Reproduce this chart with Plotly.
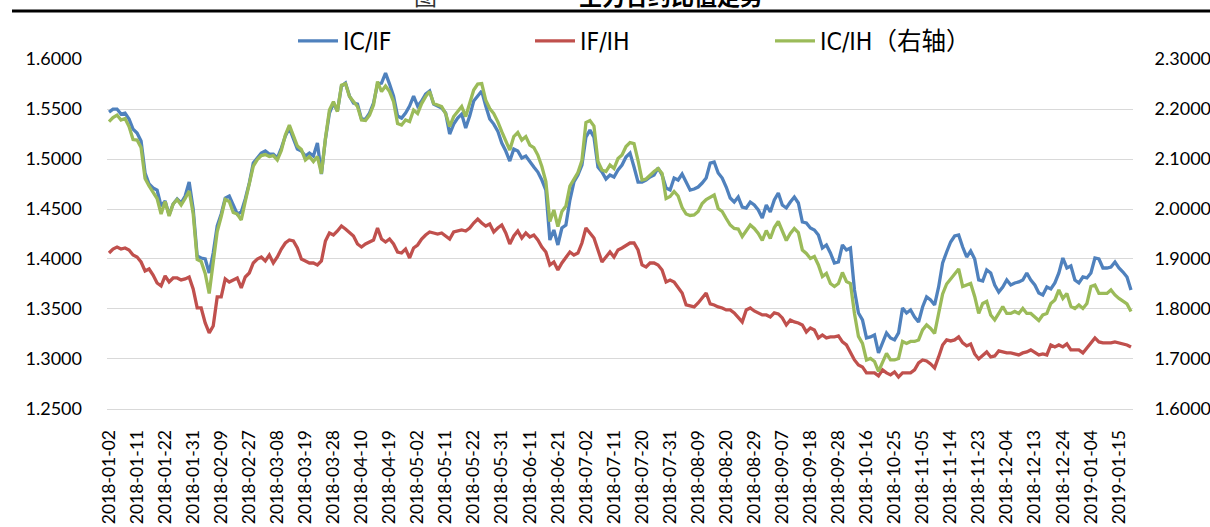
import plotly.graph_objects as go
import pandas as pd

# ---- trading calendar (SSE/CFFEX, 2018-01-02 .. 2019-01-18) ----
holidays = ['2018-01-01', '2018-02-15', '2018-02-16', '2018-02-19', '2018-02-20', '2018-02-21',
            '2018-04-05', '2018-04-06', '2018-04-30', '2018-05-01', '2018-06-18', '2018-09-24',
            '2018-10-01', '2018-10-02', '2018-10-03', '2018-10-04', '2018-10-05',
            '2018-12-31', '2019-01-01']
dates = [d.strftime('%Y-%m-%d') for d in pd.bdate_range('2018-01-02', '2019-01-18')
         if d.strftime('%Y-%m-%d') not in holidays]

# ---- series ----
ic_if = [
    1.547, 1.550, 1.550, 1.545, 1.546, 1.540, 1.530, 1.526, 1.518, 1.486,
    1.475, 1.471, 1.469, 1.453, 1.458, 1.444, 1.455, 1.460, 1.456, 1.463,
    1.477, 1.450, 1.403, 1.401, 1.400, 1.386, 1.406, 1.433, 1.445, 1.461,
    1.463, 1.453, 1.445, 1.447, 1.460, 1.476, 1.496, 1.501, 1.506, 1.508,
    1.505, 1.505, 1.501, 1.511, 1.523, 1.531, 1.521, 1.510, 1.508, 1.503,
    1.506, 1.503, 1.516,
    1.485, 1.520, 1.546, 1.556, 1.548, 1.573, 1.576, 1.563, 1.556, 1.555,
    1.540, 1.540, 1.546, 1.556, 1.575, 1.576, 1.586, 1.575, 1.563, 1.543,
    1.541, 1.546, 1.553, 1.563, 1.553, 1.558, 1.565, 1.568, 1.555, 1.553,
    1.551, 1.546, 1.525, 1.535, 1.541, 1.545, 1.531, 1.543, 1.558, 1.563,
    1.568, 1.553, 1.540, 1.535, 1.528, 1.516, 1.508, 1.498, 1.510, 1.508,
    1.501, 1.503,
    1.497, 1.492, 1.487, 1.479, 1.469, 1.419, 1.429, 1.414, 1.431, 1.434,
    1.459, 1.477, 1.484, 1.494, 1.522, 1.529, 1.522, 1.492, 1.487, 1.480,
    1.484, 1.482, 1.489, 1.494, 1.502, 1.506, 1.492, 1.477, 1.477, 1.479,
    1.482, 1.484, 1.491, 1.484, 1.471, 1.469, 1.481, 1.479, 1.485, 1.476,
    1.469, 1.470, 1.472, 1.476, 1.481, 1.496, 1.497, 1.486, 1.481, 1.472,
    1.461, 1.457, 1.462,
    1.452, 1.451, 1.457, 1.454, 1.449, 1.441, 1.454, 1.447, 1.459, 1.466,
    1.454, 1.451, 1.457, 1.462, 1.456, 1.437, 1.436, 1.431, 1.429, 1.424,
    1.411, 1.414, 1.406, 1.396, 1.397, 1.414, 1.409, 1.411, 1.369, 1.346,
    1.339, 1.321, 1.322, 1.324, 1.306, 1.316, 1.326, 1.321, 1.319, 1.326,
    1.351, 1.346, 1.349, 1.342, 1.337, 1.352, 1.362, 1.359, 1.354, 1.372,
    1.396, 1.407,
    1.417, 1.423, 1.424, 1.412, 1.402, 1.408, 1.400, 1.379, 1.378, 1.389,
    1.386, 1.374, 1.367, 1.372, 1.379, 1.374, 1.376, 1.377, 1.379, 1.386,
    1.379, 1.374, 1.366, 1.364, 1.372, 1.370, 1.376, 1.386, 1.401, 1.391,
    1.393, 1.379, 1.376, 1.382, 1.381, 1.386, 1.401, 1.400, 1.391, 1.391,
    1.392, 1.397, 1.391, 1.387, 1.382, 1.369,
]

if_ih = [
    1.406, 1.410, 1.412, 1.410, 1.411, 1.409, 1.404, 1.402, 1.397, 1.388,
    1.390, 1.384, 1.376, 1.373, 1.383, 1.377, 1.381, 1.381, 1.379, 1.380,
    1.382, 1.370, 1.351, 1.351, 1.336, 1.326, 1.333, 1.362, 1.362, 1.380,
    1.377, 1.379, 1.381, 1.371, 1.382, 1.386, 1.396, 1.400, 1.402, 1.398,
    1.404, 1.396, 1.402, 1.410, 1.416, 1.419, 1.418, 1.411, 1.400, 1.398,
    1.396, 1.396, 1.394,
    1.398, 1.418, 1.426, 1.424, 1.428, 1.433, 1.430, 1.427, 1.423, 1.415,
    1.412, 1.415, 1.417, 1.419, 1.431, 1.420, 1.417, 1.420, 1.415, 1.407,
    1.406, 1.410, 1.401, 1.411, 1.414, 1.420, 1.424, 1.427, 1.426, 1.425,
    1.426, 1.423, 1.420, 1.427, 1.428, 1.429, 1.428, 1.431, 1.436, 1.440,
    1.436, 1.433, 1.435, 1.427, 1.431, 1.434, 1.426, 1.415, 1.423, 1.428,
    1.421, 1.426,
    1.422, 1.424, 1.419, 1.412, 1.407, 1.394, 1.397, 1.389, 1.396, 1.402,
    1.407, 1.404, 1.406, 1.416, 1.431, 1.426, 1.421, 1.409, 1.397, 1.402,
    1.407, 1.402, 1.409, 1.411, 1.414, 1.416, 1.416, 1.409, 1.394, 1.392,
    1.396, 1.396, 1.394, 1.389, 1.377, 1.379, 1.377, 1.372, 1.366, 1.354,
    1.353, 1.352, 1.356, 1.361, 1.366, 1.355, 1.354, 1.352, 1.351, 1.349,
    1.349, 1.346, 1.342,
    1.337, 1.349, 1.351, 1.348, 1.346, 1.344, 1.344, 1.342, 1.346, 1.345,
    1.341, 1.334, 1.339, 1.337, 1.336, 1.334, 1.327, 1.331, 1.329, 1.321,
    1.324, 1.321, 1.322, 1.322, 1.323, 1.317, 1.314, 1.306, 1.299, 1.294,
    1.292, 1.286, 1.286, 1.286, 1.283, 1.289, 1.286, 1.284, 1.287, 1.282,
    1.286, 1.286, 1.286, 1.289, 1.296, 1.299, 1.298, 1.295, 1.291, 1.302,
    1.314, 1.319,
    1.318, 1.319, 1.322, 1.316, 1.313, 1.315, 1.305, 1.300, 1.304, 1.307,
    1.302, 1.303, 1.308, 1.307, 1.306, 1.306, 1.305, 1.304, 1.306, 1.307,
    1.309, 1.306, 1.304, 1.305, 1.304, 1.314, 1.312, 1.314, 1.312, 1.315,
    1.309, 1.309, 1.309, 1.306, 1.311, 1.317, 1.321, 1.317, 1.316, 1.316,
    1.316, 1.317, 1.316, 1.315, 1.314, 1.312,
]

ic_ih = [
    2.175, 2.183, 2.188, 2.178, 2.181, 2.165, 2.139, 2.138, 2.123, 2.061,
    2.046, 2.033, 2.021, 1.990, 2.015, 1.986, 2.010, 2.019, 2.008, 2.021,
    2.036, 1.991, 1.899, 1.895, 1.871, 1.831, 1.891, 1.955, 1.985, 2.019,
    2.015, 1.993, 1.990, 1.978, 2.015, 2.050, 2.086, 2.099, 2.107, 2.109,
    2.105, 2.107, 2.098, 2.117, 2.148, 2.168, 2.148, 2.126, 2.119, 2.098,
    2.105, 2.095, 2.105,
    2.071, 2.141, 2.198, 2.215, 2.195, 2.248, 2.251, 2.225, 2.215, 2.205,
    2.178, 2.177, 2.188, 2.208, 2.255, 2.235, 2.246, 2.235, 2.215, 2.171,
    2.168, 2.178, 2.175, 2.198, 2.191, 2.211, 2.225, 2.235, 2.211, 2.208,
    2.205, 2.191, 2.165, 2.185, 2.195, 2.205, 2.185, 2.211, 2.238, 2.250,
    2.251, 2.218, 2.201, 2.191, 2.175, 2.155, 2.138, 2.118, 2.145, 2.153,
    2.138, 2.145,
    2.128, 2.123, 2.108, 2.085, 2.055, 1.975, 1.998, 1.965, 1.995, 2.006,
    2.046, 2.059, 2.073, 2.097, 2.173, 2.177, 2.166, 2.095, 2.078, 2.075,
    2.088, 2.081, 2.101, 2.108, 2.125, 2.133, 2.131, 2.097, 2.058, 2.060,
    2.068, 2.075, 2.081, 2.071, 2.021, 2.025, 2.035, 2.026, 2.003, 1.990,
    1.987, 1.988, 1.995, 2.011, 2.019, 2.023, 2.028, 2.001, 1.995, 1.981,
    1.968, 1.961, 1.960,
    1.945, 1.958, 1.968, 1.961, 1.951, 1.937, 1.957, 1.941, 1.963, 1.975,
    1.955, 1.937, 1.951, 1.961, 1.953, 1.918, 1.911, 1.901, 1.905, 1.888,
    1.865, 1.871, 1.851, 1.845, 1.851, 1.873, 1.855, 1.851, 1.791, 1.745,
    1.731, 1.698, 1.701, 1.695, 1.675, 1.695, 1.711, 1.698, 1.698, 1.701,
    1.735, 1.731, 1.735, 1.735, 1.738, 1.758, 1.768, 1.761, 1.751, 1.791,
    1.830, 1.850,
    1.860, 1.872, 1.880, 1.845, 1.848, 1.851, 1.825, 1.791, 1.811, 1.815,
    1.788, 1.778, 1.791, 1.805, 1.791, 1.791, 1.795, 1.791, 1.801, 1.791,
    1.791, 1.785, 1.777, 1.788, 1.791, 1.811, 1.818, 1.838, 1.821, 1.831,
    1.805, 1.801, 1.808, 1.801, 1.811, 1.845, 1.848, 1.831, 1.831, 1.831,
    1.838, 1.828, 1.821, 1.815, 1.810, 1.795,
]

x_tick_labels = dates[::7]
left_ticks = [1.25, 1.30, 1.35, 1.40, 1.45, 1.50, 1.55, 1.60]
right_ticks = [1.6, 1.7, 1.8, 1.9, 2.0, 2.1, 2.2, 2.3]

BLUE, RED, GREEN = '#4F81BD', '#C0504D', '#9BBB59'
GRID = '#D9D9D9'
TICK_FONT = dict(family='Lato, Carlito, Liberation Sans, sans-serif', size=18, color='#000000')
XTICK_FONT = dict(family='Lato, Carlito, Liberation Sans, sans-serif', size=17.5, color='#000000')
LEG_FONT = dict(family='Liberation Sans Narrow, DejaVu Sans Condensed, Noto Sans CJK SC, sans-serif',
                size=24.5, color='#000000')

W, H = 1210, 527
L, R, T, B = 107, 77, 59, 118
PW, PH = W - L - R, H - T - B


def fx(p):
    return (p - L) / PW


def fy(p):
    return (H - B - p) / PH


fig = go.Figure()
fig.add_trace(go.Scatter(x=dates, y=ic_if, name='IC/IF', mode='lines',
                         line=dict(color=BLUE, width=3.3), legend='legend'))
fig.add_trace(go.Scatter(x=dates, y=if_ih, name='IF/IH', mode='lines',
                         line=dict(color=RED, width=3.3), legend='legend2'))
fig.add_trace(go.Scatter(x=dates, y=ic_ih, name='IC/IH（右轴）', mode='lines',
                         line=dict(color=GREEN, width=3.3), yaxis='y2', legend='legend3'))


def leg(xpix):
    return dict(x=fx(xpix), y=fy(41), xanchor='left', yanchor='middle', orientation='h',
                font=LEG_FONT, bgcolor='rgba(0,0,0,0)', borderwidth=0, itemwidth=40)


fig.update_layout(
    width=W, height=H, autosize=False,
    margin=dict(l=L, r=R, t=T, b=B, pad=0, autoexpand=False),
    paper_bgcolor='white', plot_bgcolor='white',
    showlegend=True,
    legend=leg(293), legend2=leg(530), legend3=leg(770),
    xaxis=dict(type='category', range=[-0.5, len(dates) - 0.5],
               tickmode='array', tickvals=x_tick_labels, ticktext=x_tick_labels,
               tickangle=-90, tickfont=XTICK_FONT, ticks='', ticklabelstandoff=13,
               ticklabeloverflow='allow',
               showgrid=False, zeroline=False, showline=True, linecolor=GRID, linewidth=1),
    yaxis=dict(range=[1.2499, 1.6001], tickmode='array', tickvals=left_ticks,
               tickformat='.4f', tickfont=TICK_FONT, ticks='', ticklabelstandoff=24,
               showgrid=True, gridcolor=GRID, gridwidth=1.3, zeroline=False, showline=False),
    yaxis2=dict(range=[1.5998, 2.3002], tickmode='array', tickvals=right_ticks,
                tickformat='.4f', tickfont=TICK_FONT, ticks='outside', ticklen=17,
                tickcolor='rgba(0,0,0,0)', ticklabelstandoff=0,
                ticklabeloverflow='allow',
                overlaying='y', side='right', showgrid=False, zeroline=False, showline=False),
    shapes=[dict(type='line', xref='paper', yref='paper', x0=fx(12), x1=fx(1210),
                 y0=fy(11), y1=fy(11), line=dict(color='#000000', width=3))],
    annotations=[
        dict(text='图', xref='paper', yref='paper', x=fx(425), y=fy(-4.5), xanchor='center',
             yanchor='middle', showarrow=False,
             font=dict(family='Noto Sans CJK SC', size=23, color='#333333')),
        dict(text='<b>主力合约比值走势</b>', xref='paper', yref='paper', x=fx(671), y=fy(-4.5),
             xanchor='center', yanchor='middle', showarrow=False,
             font=dict(family='Noto Sans CJK SC', size=23, color='#000000')),
    ],
)

fig.write_html('out.html', config={'displayModeBar': False},
               post_script="document.documentElement.style.overflow='hidden';"
                           "document.body.style.margin='0px';document.body.style.overflow='hidden';")
